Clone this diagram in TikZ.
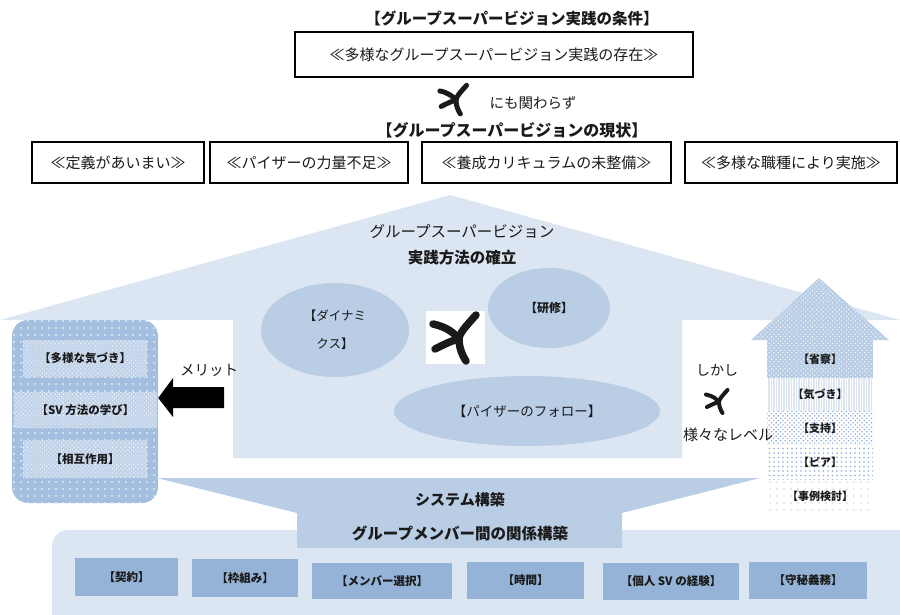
\documentclass[tikz,border=0pt]{standalone}
\usepackage{fontspec}
\setmainfont{Noto Sans CJK JP}
\usetikzlibrary{patterns.meta,shapes.geometric}
\definecolor{lite}{HTML}{DCE6F2}
\definecolor{mid}{HTML}{B9CDE5}
\definecolor{dk}{HTML}{95B3D7}
\definecolor{panel}{HTML}{A4BEDF}
\definecolor{panelin}{HTML}{C3D4EA}
\definecolor{ink}{HTML}{1A1A1A}
\definecolor{dotblue}{HTML}{8EABD6}
\newcommand{\fs}[1]{\fontsize{#1}{#1}\selectfont}
\newcommand{\seastar}[4]{%
\begin{scope}[shift={(#1,#2)},scale=#3,line width=#4,line cap=round,draw=ink]
\draw (-26,-13) .. controls (-12,-10) and (-5,-4) .. (0,2);
\draw (-24,12) .. controls (-14,7) and (-6,3) .. (0,2);
\draw (17,-22) .. controls (6,-10) and (0,-3) .. (0,2) .. controls (0,10) and (3,18) .. (7,24);
\end{scope}}
\tikzset{
  lbl/.style={inner sep=0pt, text=ink},
  frame/.style={draw=black, line width=1.3pt, fill=white, inner sep=0pt, text=ink, font=\fs{15}},
  kbox/.style={fill=dk, inner sep=0pt, text=ink, font=\bfseries\fs{11.5}},
  ell/.style={ellipse, fill=mid, inner sep=0pt, text=ink},
  pin/.style={fill=panelin, inner sep=0pt, text=ink, font=\bfseries\fs{11.5},
     postaction={pattern={Dots[radius=0.6pt,distance=3pt,angle=45]}, pattern color=white}},
  sec/.style={inner sep=0pt, minimum width=106pt, text=ink, font=\bfseries\fs{11}}
}
\begin{document}
\begin{tikzpicture}[x=1pt,y=-1pt]
\useasboundingbox (0,0) rectangle (900,615);
% top part
\node[lbl, font=\bfseries\fs{15.5}] (t1) at (512,18) {【グループスーパービジョン実践の条件】};
\node[frame, minimum width=398pt, minimum height=45pt] (b0) at (494,54.5) {≪多様なグループスーパービジョン実践の存在≫};
\seastar{456}{99}{0.62}{5}
\node[lbl, font=\fs{14.5}] (nimo) at (533,103) {にも関わらず};
\node[lbl, font=\bfseries\fs{16}] (t2) at (512,130) {【グループスーパービジョンの現状】};
\node[frame, minimum width=172pt, minimum height=41pt] (r1) at (118,162.5) {≪定義があいまい≫};
\node[frame, minimum width=198pt, minimum height=41pt] (r2) at (309,162.5) {≪パイザーの力量不足≫};
\node[frame, minimum width=249pt, minimum height=41pt] (r3) at (546.5,162.5) {≪養成カリキュラムの未整備≫};
\node[frame, minimum width=212pt, minimum height=41pt] (r4) at (791,162.5) {≪多様な職種により実施≫};
% house
\fill[lite] (0,320) -- (450,195) -- (900,320) -- (682,320) -- (682,458) -- (233,458) -- (233,320) -- cycle;
\node[lbl, font=\fs{15.5}] (h1) at (462,232) {グループスーパービジョン};
\node[lbl, font=\bfseries\fs{15.5}] (h2) at (462,258) {実践方法の確立};
\node[ell, minimum width=148pt, minimum height=94pt, align=center, font=\fontsize{12.5}{28}\selectfont] (e1) at (335,330) {【ダイナミ\\クス】};
\node[ell, minimum width=122pt, minimum height=80pt, font=\bfseries\fs{12}] (e2) at (549,308) {【研修】};
\node[ell, minimum width=266pt, minimum height=70pt, font=\fs{13.5}] (e3) at (527,411) {【パイザーのフォロー】};
\node[fill=white, minimum width=59pt, minimum height=53pt, inner sep=0pt] (sq) at (455.5,337.5) {};
\seastar{459}{337}{1}{7.5}
% left panel
\node[fill=panel, rounded corners=16pt, minimum width=146pt, minimum height=183pt, inner sep=0pt,
  postaction={pattern={Dots[radius=0.8pt,distance=7pt]}, pattern color=white}] (lp) at (85,411.5) {};
\node[pin, minimum width=124pt, minimum height=37pt] (l1) at (85,358.5) {【多様な気づき】};
\node[pin, minimum width=143pt, minimum height=36pt] (l2) at (85.5,410) {【SV 方法の学び】};
\node[pin, minimum width=124pt, minimum height=38pt] (l3) at (85,459) {【相互作用】};
\fill[black] (lp.east |- 0,398) -- (173,378) -- (173,387) -- (224,387) -- (224,408) -- (173,408) -- (173,417) -- cycle;
\node[lbl, font=\fs{14.5}] (m) at (209,370) {メリット};
% right arrow
\path[fill=mid, postaction={pattern={Dots[radius=0.7pt,distance=3.2pt,angle=45]}, pattern color=white}]
  (751,340) -- (819,278) -- (889,340) -- cycle;
\node[sec, minimum height=38pt, fill=mid, postaction={pattern={Dots[radius=0.7pt,distance=3.2pt,angle=45]}, pattern color=white}] (a1) at (820,359) {【省察】};
\node[sec, minimum height=33pt, fill=lite, postaction={pattern={Lines[distance=2.5pt,angle=90,line width=0.6pt]}, pattern color=white}] (a2) at (820,394.5) {【気づき】};
\node[sec, minimum height=34pt, fill=white, postaction={pattern={Dots[radius=0.9pt,distance=3.2pt,angle=45]}, pattern color=dotblue}] (a3) at (820,428) {【支持】};
\node[sec, minimum height=35pt, fill=white, postaction={pattern={Dots[radius=0.8pt,distance=4.5pt]}, pattern color=dotblue}] (a4) at (820,462.5) {【ピア】};
\node[sec, minimum height=33pt, fill=white, postaction={pattern={Dots[radius=0.7pt,distance=7pt]}, pattern color=dotblue}] (a5) at (820,496.5) {【事例検討】};
\node[lbl, font=\fs{14}] (sk) at (717,370) {しかし};
\seastar{719}{401}{0.5}{4}
\node[lbl, font=\fs{15}] (lv) at (728,435) {様々なレベル};
% bottom base
\fill[lite, rounded corners=16pt] (52,530) rectangle (920,640);
\fill[mid] (157,478) -- (760,478) -- (622,513) -- (622,548) -- (297,548) -- (297,513) -- cycle;
\node[lbl, font=\bfseries\fs{15}] (p1) at (460,500) {システム構築};
\node[lbl, font=\bfseries\fs{15.5}] (p2) at (460,533) {グループメンバー間の関係構築};
\node[kbox, minimum width=103pt, minimum height=38pt] (k1) at (126.5,577) {【契約】};
\node[kbox, minimum width=106pt, minimum height=38pt] (k2) at (245,578) {【枠組み】};
\node[kbox, minimum width=140pt, minimum height=36pt] (k3) at (382,581) {【メンバー選択】};
\node[kbox, minimum width=117pt, minimum height=37pt] (k4) at (525.5,580.5) {【時間】};
\node[kbox, minimum width=136pt, minimum height=37pt] (k5) at (671,581.5) {【個人 SV の経験】};
\node[kbox, minimum width=118pt, minimum height=37pt] (k6) at (808,580.5) {【守秘義務】};
\end{tikzpicture}
\end{document}
